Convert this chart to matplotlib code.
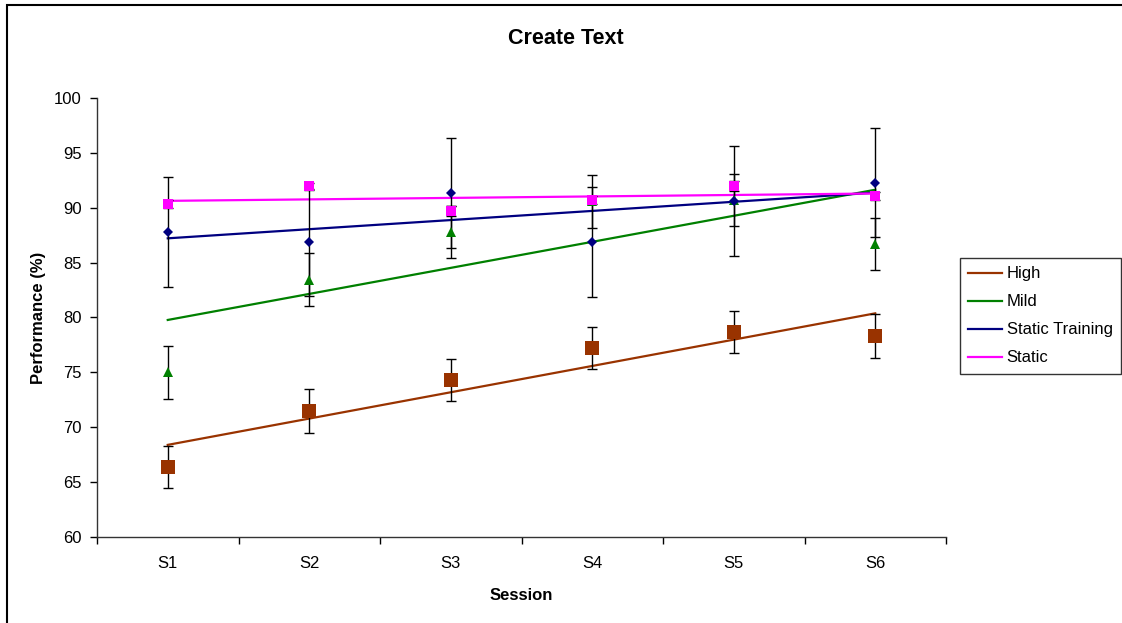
import matplotlib
matplotlib.use("Agg")
import matplotlib.pyplot as plt
import numpy as np
from matplotlib.patches import Rectangle

plt.rcParams['font.family'] = ['Liberation Sans', 'DejaVu Sans']

# Data
sessions = ['S1', 'S2', 'S3', 'S4', 'S5', 'S6']
high = [66.4, 71.48, 74.3, 77.19, 78.65, 78.3]
high_err = [1.9, 2.0, 1.9, 1.9, 1.9, 2.0]
mild = [75.0, 83.45, 87.8, 90.6, 90.7, 86.7]
mild_err = [2.4, 2.4, 2.4, 2.4, 2.4, 2.4]
static_training = [87.82, 86.85, 91.32, 86.9, 90.6, 92.28]
static_training_err = [5.0, 4.9, 5.0, 5.0, 5.0, 4.95]
static = [90.34, 91.95, 89.74, 90.7, 91.98, 91.07]
static_err = [0.4, 0.35, 0.45, 0.4, 0.45, 0.4]

series = [
    ('High', high, high_err, '#993300', 's', 9.5),
    ('Mild', mild, mild_err, '#008000', '^', 7),
    ('Static Training', static_training, static_training_err, '#000080', 'D', 5.5),
    ('Static', static, static_err, '#FF00FF', 's', 6.5),
]

fig = plt.figure(figsize=(11.22, 6.23), dpi=100)
W, H = 1122, 623
ax = fig.add_axes([97/W, 1-537/H, (946-97)/W, (537-98)/H])

x = np.arange(len(sessions))

# trend lines (linear fit, like Excel)
for name, y, err, col, mk, ms in series:
    p = np.polyfit(x, y, 1)
    ax.plot(x, np.polyval(p, x), color=col, lw=1.6, label=name, zorder=2)

for name, y, err, col, mk, ms in series:
    ax.errorbar(x, y, yerr=err, fmt='none', ecolor='black', elinewidth=1,
                capsize=3.8, capthick=1, zorder=3)
    ax.plot(x, y, ls='', marker=mk, color=col, markersize=ms,
            markeredgewidth=0, zorder=4)

ax.set_xlim(-0.5, 5.5)
ax.set_ylim(60, 100)
ax.set_yticks(np.arange(60, 101, 5))
ax.set_xticks(x)
ax.set_xticklabels(sessions)
ax.set_xticks(np.arange(-0.5, 6, 1), minor=True)
ax.tick_params(axis='x', which='major', length=0, pad=14, labelsize=12)
ax.tick_params(axis='x', which='minor', length=5, direction='out', width=1)
ax.tick_params(axis='y', length=5, direction='out', width=1, pad=6, labelsize=12)
ax.spines['top'].set_visible(False)
ax.spines['right'].set_visible(False)
for s in ['left', 'bottom']:
    ax.spines[s].set_linewidth(1)
    ax.spines[s].set_color('#333333')

ax.set_xlabel('Session', fontsize=12, fontweight='bold', labelpad=12)
ax.set_ylabel('Performance (%)', fontsize=12, fontweight='bold', labelpad=6)
fig.text(566/W, 1-38/H, 'Create Text', fontsize=15.5, fontweight='bold',
         ha='center', va='center')

leg = fig.legend(loc='upper left', bbox_to_anchor=(960/W, 1-258/H),
                 fontsize=12, frameon=True, fancybox=False, handlelength=2.0,
                 handletextpad=0.3, labelspacing=0.78, borderpad=0.5,
                 borderaxespad=0)
leg.get_frame().set_edgecolor('black')
leg.get_frame().set_linewidth(1)

# chart area border
fig.patches.append(Rectangle((7/W, -0.1), 1.2, 1-5/H+0.1, transform=fig.transFigure,
                             fill=False, edgecolor='black', lw=1.5))

fig.savefig('out.png', dpi=100)
